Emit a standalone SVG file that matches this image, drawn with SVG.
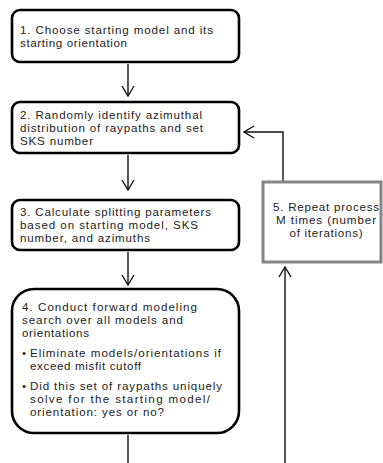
<svg xmlns="http://www.w3.org/2000/svg" width="383" height="463" viewBox="0 0 383 463">
<defs>
<style>
.box{fill:#fff;stroke:#000;stroke-width:2.6}
.gbox{fill:#fff;stroke:#858585;stroke-width:3}
.t{font-family:"Liberation Sans",Arial,sans-serif;font-size:11.6px;fill:#222}
.m{text-anchor:middle}
.c{fill:none;stroke:#111;stroke-width:1.4}
</style>
<marker id="ah" viewBox="0 0 12 14" refX="11" refY="7" markerWidth="12" markerHeight="14" markerUnits="userSpaceOnUse" orient="auto">
<path d="M1,1 L11,7 L1,13" fill="none" stroke="#111" stroke-width="1.4"/>
</marker>
</defs>
<rect width="383" height="463" fill="#fff"/>
<g id="connectors">
<line class="c" x1="128" y1="64" x2="128" y2="96" marker-end="url(#ah)"/>
<line class="c" x1="128" y1="155" x2="128" y2="190" marker-end="url(#ah)"/>
<line class="c" x1="128" y1="252" x2="128" y2="285" marker-end="url(#ah)"/>
<line class="c" x1="128" y1="435" x2="128" y2="463"/>
<polyline class="c" points="283,181 283,132 244,132" marker-end="url(#ah)"/>
<line class="c" x1="285" y1="463" x2="285" y2="267" marker-end="url(#ah)"/>
</g>
<g id="node1">
<rect class="box" x="12" y="10" width="227" height="52" rx="8"/>
<text class="t" x="20" y="34" textLength="193" lengthAdjust="spacing">1. Choose starting model and its</text>
<text class="t" x="20" y="47" textLength="107" lengthAdjust="spacing">starting orientation</text>
</g>
<g id="node2">
<rect class="box" x="12" y="102" width="227" height="51" rx="8"/>
<text class="t" x="20" y="119" textLength="182" lengthAdjust="spacing">2. Randomly identify azimuthal</text>
<text class="t" x="20" y="132" textLength="183" lengthAdjust="spacing">distribution of raypaths and set</text>
<text class="t" x="20" y="145" textLength="73" lengthAdjust="spacing">SKS number</text>
</g>
<g id="node3">
<rect class="box" x="12" y="200" width="227" height="50" rx="8"/>
<text class="t" x="20" y="216" textLength="191" lengthAdjust="spacing">3. Calculate splitting parameters</text>
<text class="t" x="20" y="229" textLength="178" lengthAdjust="spacing">based on starting model, SKS</text>
<text class="t" x="20" y="242" textLength="130" lengthAdjust="spacing">number, and azimuths</text>
</g>
<g id="node4">
<rect class="box" x="12" y="289" width="227" height="144" rx="22"/>
<text class="t" x="22" y="311" textLength="175" lengthAdjust="spacing">4. Conduct forward modeling</text>
<text class="t" x="22" y="324" textLength="161" lengthAdjust="spacing">search over all models and</text>
<text class="t" x="22" y="337" textLength="67" lengthAdjust="spacing">orientations</text>
<text class="t" x="22" y="357">•</text>
<text class="t" x="30" y="357" textLength="191" lengthAdjust="spacing">Eliminate models/orientations  if</text>
<text class="t" x="30" y="370" textLength="111" lengthAdjust="spacing">exceed misfit cutoff</text>
<text class="t" x="22" y="390">•</text>
<text class="t" x="30" y="390" textLength="192" lengthAdjust="spacing">Did this set of raypaths uniquely</text>
<text class="t" x="30" y="403" textLength="180" lengthAdjust="spacing">solve for the starting model/</text>
<text class="t" x="30" y="416" textLength="134" lengthAdjust="spacing">orientation:  yes or no?</text>
</g>
<g id="node5">
<rect class="gbox" x="263" y="182" width="118" height="80"/>
<text class="t m" x="326" y="211" textLength="106" lengthAdjust="spacing">5. Repeat process</text>
<text class="t m" x="326" y="224" textLength="100" lengthAdjust="spacing">M times (number</text>
<text class="t m" x="326" y="237" textLength="73" lengthAdjust="spacing">of iterations)</text>
</g>
</svg>
